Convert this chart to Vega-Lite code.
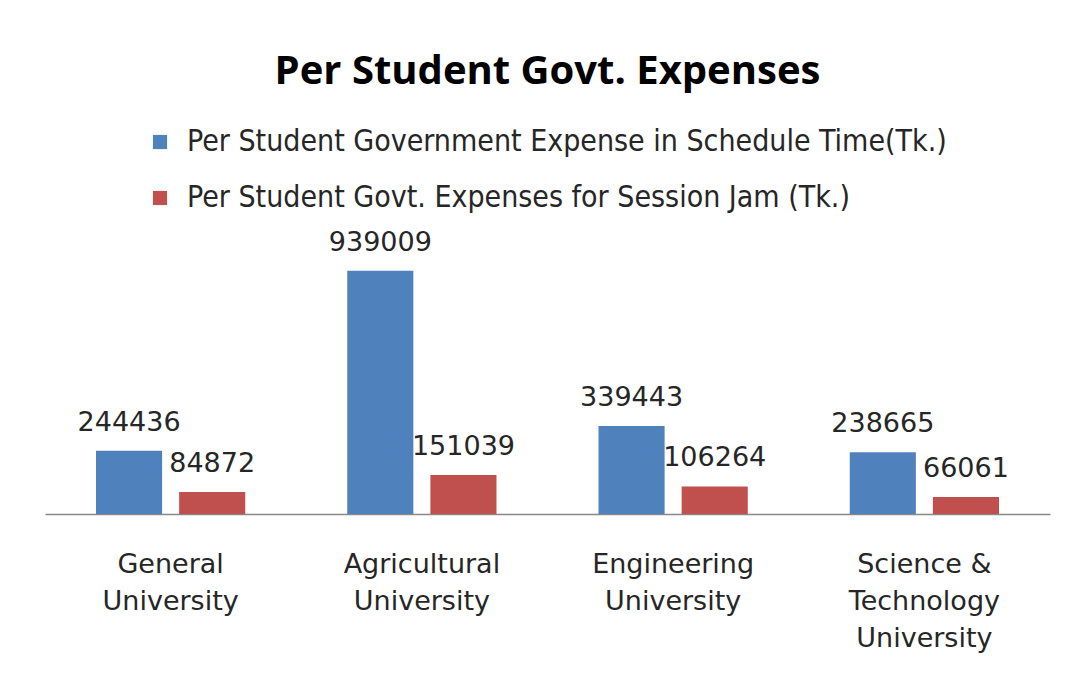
{
  "$schema": "https://vega.github.io/schema/vega-lite/v6.json",
  "width": 1005,
  "height": 259,
  "autosize": {"type": "none"},
  "padding": {"left": 45, "top": 255, "right": 25, "bottom": 164},
  "background": "white",
  "title": {
    "text": "Per Student Govt. Expenses",
    "font": "Open Sans",
    "fontSize": 40,
    "fontWeight": "bold",
    "color": "#000000",
    "anchor": "middle",
    "offset": 35
  },
  "data": {
    "values": [
      {"university": "General|University", "series": "Per Student Government Expense in Schedule Time(Tk.)", "value": 244436},
      {"university": "General|University", "series": "Per Student Govt. Expenses for Session Jam (Tk.)", "value": 84872},
      {"university": "Agricultural|University", "series": "Per Student Government Expense in Schedule Time(Tk.)", "value": 939009},
      {"university": "Agricultural|University", "series": "Per Student Govt. Expenses for Session Jam (Tk.)", "value": 151039},
      {"university": "Engineering|University", "series": "Per Student Government Expense in Schedule Time(Tk.)", "value": 339443},
      {"university": "Engineering|University", "series": "Per Student Govt. Expenses for Session Jam (Tk.)", "value": 106264},
      {"university": "Science &|Technology|University", "series": "Per Student Government Expense in Schedule Time(Tk.)", "value": 238665},
      {"university": "Science &|Technology|University", "series": "Per Student Govt. Expenses for Session Jam (Tk.)", "value": 66061}
    ]
  },
  "encoding": {
    "x": {
      "field": "university",
      "type": "nominal",
      "sort": null,
      "scale": {"paddingInner": 0.406, "paddingOuter": 0.203},
      "axis": {
        "title": null,
        "labelAngle": 0,
        "labelExpr": "split(datum.value, '|')",
        "labelFont": "DejaVu Sans",
        "labelFontSize": 27,
        "labelLineHeight": 37,
        "labelColor": "#262626",
        "labelPadding": 37,
        "ticks": false,
        "domainColor": "#888888",
        "domainWidth": 1.5,
        "grid": false
      }
    },
    "xOffset": {
      "field": "series",
      "type": "nominal",
      "sort": null,
      "scale": {"paddingInner": 0.205, "paddingOuter": 0}
    },
    "y": {
      "field": "value",
      "type": "quantitative",
      "scale": {"domain": [0, 1000000]},
      "axis": null
    }
  },
  "layer": [
    {
      "mark": {"type": "bar"},
      "encoding": {
        "color": {
          "field": "series",
          "type": "nominal",
          "sort": null,
          "scale": {
            "domain": ["Per Student Government Expense in Schedule Time(Tk.)", "Per Student Govt. Expenses for Session Jam (Tk.)"],
            "range": ["#4F81BD", "#C0504D"]
          },
          "legend": {
            "title": null,
            "orient": "none",
            "legendX": 100,
            "legendY": -128,
            "direction": "vertical",
            "symbolType": "square",
            "symbolSize": 200,
            "labelFont": "Liberation Sans Narrow, DejaVu Sans Condensed, Open Sans",
            "labelFontSize": 30,
            "labelColor": "#262626",
            "labelOffset": 12,
            "labelLimit": 1000,
            "rowPadding": 26
          }
        }
      }
    },
    {
      "mark": {
        "type": "text",
        "font": "DejaVu Sans",
        "fontSize": 27,
        "color": "#262626",
        "baseline": "alphabetic",
        "dy": -20
      },
      "encoding": {
        "text": {"field": "value", "type": "quantitative", "format": "d"}
      }
    }
  ],
  "config": {
    "view": {"stroke": null}
  }
}
